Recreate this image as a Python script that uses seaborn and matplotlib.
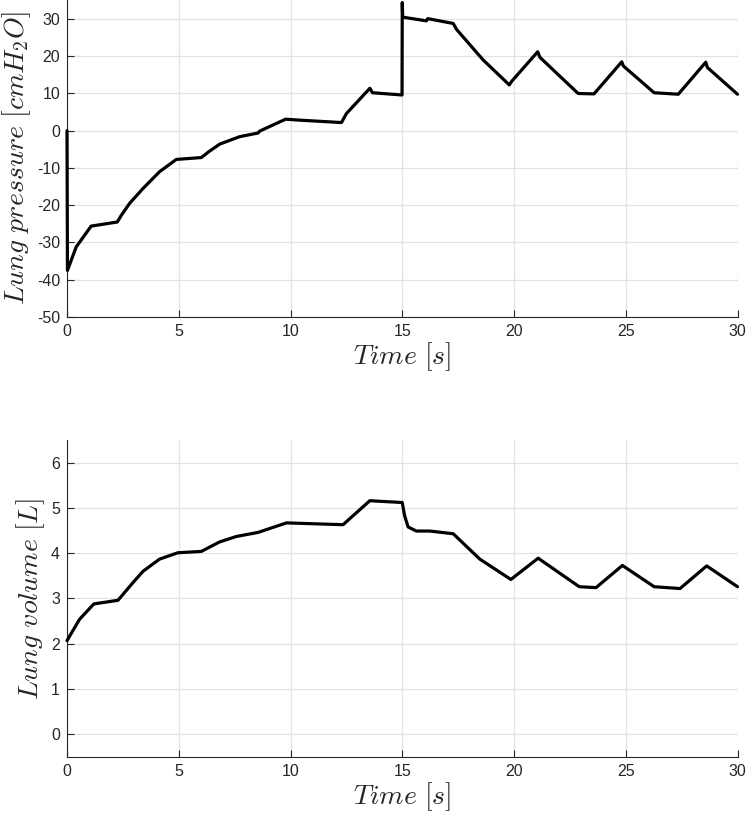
import matplotlib
matplotlib.use('Agg')
from matplotlib import pyplot as plt
import seaborn as sns

# lung pressure trace [cmH2O]
time_p = [0, 0.02, 0.41, 1.08, 2.25, 2.43, 2.8, 3.4, 4.14, 4.89, 6.01, 6.35, 6.83, 7.72,
          8.55, 8.62, 9.78, 10.4, 12.28, 12.5, 13.55, 13.67, 14.99, 15.0, 15.02,
          16.08, 16.14, 17.28, 17.43, 18.62, 19.79, 19.9, 21.06, 21.16, 22.87,
          23.58, 24.82, 24.89, 26.27, 27.35, 28.58, 28.65, 30.0]
pressure = [0, -37.5, -31.2, -25.6, -24.5, -22.7, -19.5, -15.5, -11.0, -7.7, -7.2, -5.6, -3.6, -1.6,
            -0.6, -0.1, 3.1, 2.85, 2.2, 4.6, 11.4, 10.2, 9.6, 34.4, 30.5,
            29.5, 30.1, 28.8, 27.2, 19.0, 12.3, 13.3, 21.2, 19.7, 10.0,
            9.9, 18.5, 17.4, 10.2, 9.8, 18.4, 17.0, 9.8]

# lung volume trace [L]
time_v = [0, 0.56, 1.2, 2.28, 2.95, 3.4, 4.14, 4.96, 6.01, 6.83, 7.58, 8.55, 9.82,
          12.35, 13.55, 13.9, 15.0, 15.1, 15.26, 15.63, 16.23, 17.28, 18.47,
          19.86, 21.08, 22.13, 22.92, 23.67, 24.85, 26.27, 27.43, 28.62, 30.0]
volume = [2.07, 2.54, 2.88, 2.96, 3.35, 3.6, 3.87, 4.01, 4.04, 4.25, 4.37, 4.46, 4.67,
          4.63, 5.16, 5.15, 5.12, 4.84, 4.58, 4.49, 4.49, 4.43, 3.87,
          3.42, 3.89, 3.53, 3.26, 3.24, 3.73, 3.26, 3.22, 3.72, 3.26]

x_ticks = [0, 5, 10, 15, 20, 25, 30]
p_ticks = [-50, -40, -30, -20, -10, 0, 10, 20, 30]
v_ticks = [0, 1, 2, 3, 4, 5, 6]

sns.set_style('white')
plt.rcParams['font.family'] = ['Liberation Sans', 'DejaVu Sans']
plt.rcParams['mathtext.fontset'] = 'cm'

fig = plt.figure(figsize=(7.47, 8.17), dpi=100)
ax1 = fig.add_axes([0.0897, 0.612, 0.8976, 0.388])
ax2 = fig.add_axes([0.0897, 0.0735, 0.8976, 0.3879])

sns.lineplot(x=time_p, y=pressure, ax=ax1, color='black', linewidth=2.3,
             estimator=None, sort=False, clip_on=False, zorder=5)
sns.lineplot(x=time_v, y=volume, ax=ax2, color='black', linewidth=2.3,
             estimator=None, sort=False, clip_on=False, zorder=5)


def style_axis(ax, yticks, ylim, ylabel):
    ax.set_xlim(0, 30)
    ax.set_ylim(*ylim)
    ax.set_xticks(x_ticks)
    ax.set_yticks(yticks)
    ax.set_yticklabels([str(v) for v in yticks])
    ax.grid(True, color='#e2e2e2', linewidth=0.9)
    ax.set_axisbelow(True)
    ax.spines['top'].set_visible(False)
    ax.spines['right'].set_visible(False)
    for s in ['left', 'bottom']:
        ax.spines[s].set_color('#262626')
        ax.spines[s].set_linewidth(0.8)
    ax.tick_params(bottom=True, left=True, direction='in', length=5, width=0.8,
                   colors='#262626', labelsize=11.5, pad=5)
    ax.set_xlabel(r'$Time\ [s]$', fontsize=20, labelpad=1)
    ax.set_ylabel(ylabel, fontsize=20, labelpad=3)


style_axis(ax1, p_ticks, (-50, 35.1), r'$Lung\ pressure\ [cmH_2O]$')
style_axis(ax2, v_ticks, (-0.5, 6.5), r'$Lung\ volume\ [L]$')

fig.savefig('out.png', dpi=100)
